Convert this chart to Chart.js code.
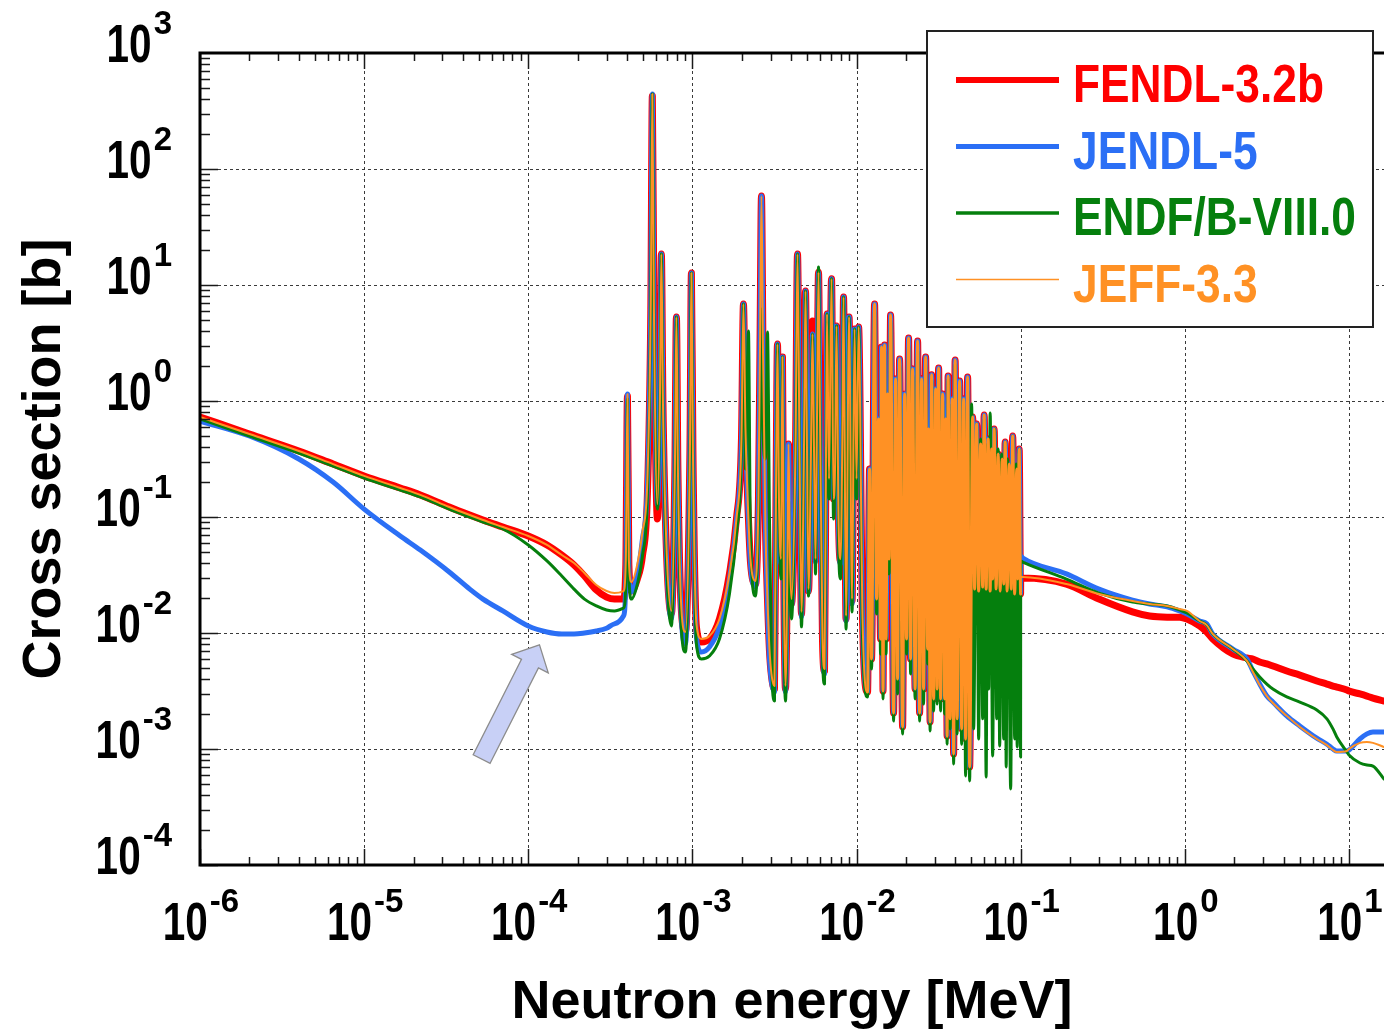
<!DOCTYPE html>
<html><head><meta charset="utf-8">
<script src="https://cdn.jsdelivr.net/npm/chart.js@4.4.1/dist/chart.umd.min.js"></script>
<style>html,body{margin:0;padding:0;background:#fff;}#wrap{position:relative;width:1384px;height:1030px;}</style>
</head><body><div id="wrap"><canvas id="c" width="1384" height="1030"></canvas></div>
<script>
// ---------- data (energies in MeV, cross sections in barns) ----------
const seriesNames = ['FENDL-3.2b', 'JENDL-5', 'ENDF/B-VIII.0', 'JEFF-3.3'];
const xTickExps = [-6, -5, -4, -3, -2, -1, 0, 1];
const yTickExps = [-4, -3, -2, -1, 0, 1, 2, 3];

// smooth low-energy part
const lowE = [1e-6, 2e-6, 4e-6, 6.47e-6, 1e-5, 1.66e-5, 2.2e-5, 3.3e-5, 4.4e-5, 5.3e-5, 7e-5, 1e-4, 1.3e-4, 1.6e-4, 1.9e-4, 2.2e-4, 2.6e-4, 3e-4];
const fendlLow = [0.728, 0.519, 0.371, 0.286, 0.226, 0.178, 0.155, 0.122, 0.104, 0.0942, 0.0820, 0.0686, 0.0574, 0.0470, 0.0386, 0.0310, 0.0235, 0.0204];
const jendlLow = [0.672, 0.499, 0.316, 0.200, 0.117, 0.0686, 0.0519, 0.0336, 0.0239, 0.0196, 0.0155, 0.0115, 0.0102, 0.0098, 0.0098, 0.0100, 0.0104, 0.0110];
const endfLow  = [0.700, 0.499, 0.356, 0.275, 0.217, 0.171, 0.149, 0.117, 0.100, 0.0905, 0.0788, 0.0574, 0.0418, 0.0310, 0.0239, 0.0196, 0.0171, 0.0158];
const jeffLow  = [0.728, 0.519, 0.371, 0.286, 0.226, 0.178, 0.155, 0.122, 0.104, 0.0942, 0.0820, 0.0686, 0.0574, 0.0470, 0.0401, 0.0329, 0.0259, 0.0230];

// isolated resonances
const isoE = [3.35e-4, 3.80e-4, 3.93e-4, 4.02e-4, 4.10e-4, 4.25e-4, 4.62e-4, 4.96e-4, 5.32e-4, 5.58e-4,
  5.70e-4, 5.82e-4, 6.12e-4, 6.34e-4, 6.47e-4, 6.61e-4, 6.94e-4, 7.45e-4, 7.82e-4, 7.99e-4,
  8.16e-4, 8.57e-4, 9.07e-4, 9.66e-4, 9.86e-4, 1.007e-3, 1.058e-3, 1.135e-3, 1.270e-3, 1.461e-3,
  1.681e-3, 1.855e-3, 1.990e-3, 2.046e-3, 2.105e-3, 2.195e-3, 2.258e-3, 2.422e-3, 2.526e-3, 2.580e-3,
  2.635e-3, 2.691e-3, 2.787e-3, 2.867e-3, 2.948e-3, 3.032e-3, 3.162e-3, 3.229e-3, 3.298e-3, 3.368e-3,
  3.464e-3, 3.538e-3, 3.613e-3, 3.690e-3, 3.796e-3, 3.850e-3, 3.931e-3, 4.015e-3, 4.246e-3, 4.368e-3,
  4.492e-3, 4.618e-3, 4.784e-3, 4.887e-3, 4.991e-3, 5.097e-3, 5.279e-3, 5.391e-3, 5.506e-3, 5.623e-3,
  5.743e-3, 5.865e-3, 5.990e-3, 6.204e-3, 6.381e-3, 6.517e-3, 6.609e-3, 6.797e-3, 7.040e-3, 7.240e-3,
  7.394e-3, 7.551e-3, 7.766e-3, 7.988e-3, 8.215e-3, 8.331e-3, 8.630e-3, 9.002e-3, 9.389e-3, 9.723e-3,
  1.000e-2, 1.029e-2, 1.088e-2];
const fendlIso = [0.0196, 0.0196, 0.0393, 1.10, 0.0393, 0.0230, 0.0292, 0.0461, 0.158, 6.21,
  426, 7.57, 0.0961, 1.04, 18.5, 1.04, 0.0530, 0.0146, 0.259, 5.30,
  0.259, 0.0155, 0.0102, 0.386, 12.7, 0.386, 0.0113, 0.00837, 0.00888, 0.0132,
  0.0323, 0.0961, 0.470, 6.86, 0.574, 0.0961, 0.0409, 0.0264, 0.143, 2.81,
  58.5, 2.81, 0.0788, 0.0196, 0.00700, 0.00426, 0.00329, 0.143, 3.10, 0.143,
  0.0434, 2.39, 0.0196, 0.00329, 0.0434, 0.426, 0.0434, 0.0178, 0.386, 18.5,
  0.386, 0.0146, 0.386, 8.88, 0.386, 0.0230, 0.386, 4.89, 0.386, 0.0434,
  0.700, 12.9, 0.700, 0.00853, 0.00470, 0.386, 5.62, 0.213, 11.3, 0.143,
  0.259, 4.43, 0.0961, 0.0418, 0.700, 7.88, 0.0132, 5.30, 0.0189, 4.18,
  0.213, 4.35, 0.0127];
const jendlIso = [0.0120, 0.0140, 0.0292, 1.15, 0.0356, 0.0226, 0.0323, 0.0646, 0.193, 7.57,
  443, 7.57, 0.129, 1.04, 18.5, 1.04, 0.0480, 0.0132, 0.259, 5.30,
  0.259, 0.0132, 0.00804, 0.386, 12.7, 0.386, 0.00924, 0.00686, 0.00757, 0.0113,
  0.0292, 0.0923, 0.470, 6.86, 0.574, 0.0961, 0.0393, 0.0249, 0.143, 2.81,
  58.5, 2.81, 0.0788, 0.0178, 0.00597, 0.00378, 0.00310, 0.143, 3.10, 0.143,
  0.0393, 2.39, 0.0178, 0.00310, 0.0434, 0.426, 0.0434, 0.0168, 0.386, 18.5,
  0.386, 0.0137, 0.386, 8.88, 0.386, 0.0226, 0.386, 3.78, 0.386, 0.0409,
  0.700, 12.9, 0.700, 0.00804, 0.00443, 0.386, 5.62, 0.213, 11.3, 0.143,
  0.259, 4.43, 0.0870, 0.0393, 0.700, 7.88, 0.0127, 5.30, 0.0178, 4.18,
  0.213, 4.35, 0.0120];
const endfIso = [0.0155, 0.0164, 0.0264, 1.04, 0.0323, 0.0196, 0.0264, 0.0461, 0.158, 7.57,
  443, 7.57, 0.117, 1.04, 18.5, 1.04, 0.0434, 0.0115, 0.259, 5.30,
  0.259, 0.0108, 0.00686, 0.386, 12.7, 0.386, 0.00804, 0.00597, 0.00633, 0.00888,
  0.0217, 0.0714, 0.386, 6.86, 0.259, 4.01, 0.0646, 0.0208, 0.0961, 0.700,
  6.21, 0.574, 0.316, 3.93, 0.0961, 0.00597, 0.00259, 0.0961, 3.10, 0.143,
  0.0292, 2.39, 0.0132, 0.00259, 0.0239, 0.143, 0.0239, 0.0132, 0.386, 18.5,
  0.386, 0.0113, 0.386, 8.88, 0.386, 0.0208, 0.386, 3.78, 0.386, 0.0323,
  0.700, 14.3, 0.700, 0.00659, 0.00363, 0.386, 5.62, 0.143, 11.3, 0.0961,
  0.259, 4.43, 0.0646, 0.0292, 0.700, 7.88, 0.0108, 5.30, 0.0152, 4.18,
  0.143, 4.35, 0.00888];
const jeffIso = [0.0221, 0.0230, 0.0434, 1.15, 0.0434, 0.0275, 0.0393, 0.0743, 0.213, 7.57,
  443, 7.57, 0.129, 1.04, 18.5, 1.04, 0.0585, 0.0155, 0.259, 5.30,
  0.259, 0.0161, 0.0102, 0.386, 12.7, 0.386, 0.0120, 0.00888, 0.00942, 0.0132,
  0.0323, 0.0961, 0.470, 6.86, 0.574, 0.0961, 0.0434, 0.0281, 0.143, 2.81,
  58.5, 2.81, 0.0788, 0.0196, 0.00728, 0.00443, 0.00349, 0.143, 3.10, 0.143,
  0.0434, 2.39, 0.0196, 0.00349, 0.0434, 0.426, 0.0434, 0.0196, 0.386, 18.5,
  0.386, 0.0152, 0.386, 8.88, 0.386, 0.0239, 0.386, 3.78, 0.386, 0.0434,
  0.700, 12.9, 0.700, 0.00888, 0.00490, 0.386, 5.62, 0.213, 11.3, 0.143,
  0.259, 4.43, 0.0961, 0.0434, 0.700, 7.88, 0.0140, 5.30, 0.0196, 4.18,
  0.213, 4.35, 0.0132];

// dense resonance region (FENDL, JENDL and JEFF coincide here within reading precision)
const denseE = [1.167e-2, 1.200e-2, 1.234e-2, 1.288e-2, 1.324e-2, 1.362e-2, 1.401e-2, 1.420e-2, 1.450e-2, 1.481e-2,
  1.513e-2, 1.545e-2, 1.578e-2, 1.612e-2, 1.681e-2, 1.729e-2, 1.778e-2, 1.829e-2, 1.908e-2, 1.962e-2,
  2.017e-2, 2.075e-2, 2.134e-2, 2.195e-2, 2.274e-2, 2.355e-2, 2.422e-2, 2.490e-2, 2.561e-2, 2.635e-2,
  2.710e-2, 2.748e-2, 2.807e-2, 2.867e-2, 2.948e-2, 3.032e-2, 3.097e-2, 3.162e-2, 3.252e-2, 3.345e-2,
  3.440e-2, 3.489e-2, 3.563e-2, 3.613e-2, 3.716e-2, 3.822e-2, 3.904e-2, 3.987e-2, 4.101e-2, 4.246e-2,
  4.368e-2, 4.492e-2, 4.618e-2, 4.750e-2, 4.887e-2, 5.097e-2, 5.242e-2, 5.391e-2, 5.545e-2, 5.704e-2,
  5.865e-2, 5.990e-2, 6.161e-2, 6.336e-2, 6.517e-2, 6.656e-2, 6.750e-2, 6.893e-2, 7.089e-2, 7.291e-2,
  7.499e-2, 7.711e-2, 7.877e-2, 8.044e-2, 8.274e-2, 8.509e-2, 8.751e-2, 8.938e-2, 9.193e-2, 9.454e-2,
  9.587e-2, 9.792e-2, 9.99e-2];
const sharedDense = [0.00310, 0.259, 0.00597, 6.86, 0.0196, 0.700, 0.00888, 2.92, 0.00316, 3.04,
  0.00888, 1.15, 0.0434, 5.51, 0.00204, 1.55, 0.00401, 2.30, 0.00155, 1.15,
  0.00888, 3.49, 0.00597, 1.89, 0.00329, 3.29, 0.00204, 1.55, 0.00329, 2.39,
  0.00728, 0.574, 0.00171, 1.68, 0.00270, 1.27, 0.00329, 1.93, 0.00270, 1.15,
  0.00270, 0.700, 0.00129, 1.64, 0.00182, 1.04, 0.000906, 2.26, 0.00182, 1.49,
  0.00149, 1.04, 0.00122, 1.61, 0.000700, 0.728, 0.0239, 0.634, 0.0230, 0.426,
  0.0249, 0.757, 0.0239, 0.470, 0.0230, 0.386, 0.0292, 0.574, 0.0239, 0.349,
  0.0230, 0.316, 0.0264, 0.443, 0.0230, 0.286, 0.0239, 0.499, 0.0217, 0.259,
  0.0292, 0.386, 0.0217];
const endfDenseE = [1.167e-2, 1.200e-2, 1.234e-2, 1.288e-2, 1.324e-2, 1.362e-2, 1.401e-2, 1.420e-2, 1.450e-2, 1.481e-2,
  1.513e-2, 1.545e-2, 1.578e-2, 1.612e-2, 1.681e-2, 1.729e-2, 1.778e-2, 1.829e-2, 1.908e-2, 1.962e-2,
  2.017e-2, 2.075e-2, 2.134e-2, 2.195e-2, 2.274e-2, 2.355e-2, 2.422e-2, 2.490e-2, 2.561e-2, 2.635e-2,
  2.710e-2, 2.748e-2, 2.807e-2, 2.867e-2, 2.948e-2, 3.032e-2, 3.097e-2, 3.162e-2, 3.252e-2, 3.345e-2,
  3.440e-2, 3.489e-2, 3.563e-2, 3.613e-2, 3.716e-2, 3.822e-2, 3.904e-2, 3.987e-2, 4.101e-2, 4.246e-2,
  4.368e-2, 4.492e-2, 4.618e-2, 4.750e-2, 4.887e-2, 5.025e-2, 5.169e-2, 5.391e-2, 5.545e-2, 5.704e-2,
  5.865e-2, 5.990e-2, 6.161e-2, 6.292e-2, 6.381e-2, 6.517e-2, 6.750e-2, 6.942e-2, 7.140e-2, 7.291e-2,
  7.447e-2, 7.657e-2, 7.877e-2, 8.044e-2, 8.158e-2, 8.331e-2, 8.690e-2, 8.938e-2, 9.193e-2, 9.389e-2,
  9.521e-2, 9.792e-2, 9.99e-2];
const endfDense = [0.00281, 0.213, 0.00490, 6.21, 0.0146, 0.574, 0.00659, 2.54, 0.00270, 2.81,
  0.00659, 1.04, 0.0323, 5.09, 0.00174, 1.27, 0.00298, 2.08, 0.00135, 1.04,
  0.00659, 3.10, 0.00443, 1.71, 0.00270, 2.81, 0.00174, 1.40, 0.00244, 2.08,
  0.00541, 0.520, 0.00143, 1.55, 0.00213, 1.15, 0.00244, 1.81, 0.00213, 1.04,
  0.00200, 0.634, 0.00110, 1.55, 0.00149, 0.942, 0.000743, 2.08, 0.00135, 1.40,
  0.00110, 0.942, 0.000585, 1.27, 0.000530, 0.942, 0.00149, 0.634, 0.00122, 0.470,
  0.00182, 0.700, 0.000574, 0.426, 0.00329, 0.788, 0.000870, 0.574, 0.00182, 0.386,
  0.00106, 0.349, 0.00122, 0.443, 0.000700, 0.316, 0.000452, 0.499, 0.00122, 0.286,
  0.00104, 0.386, 0.000853];

// smooth high-energy part
const highE = [0.1, 0.103, 0.19, 0.30, 0.48, 0.61, 0.78, 0.93, 1.03, 1.23, 1.36, 1.48, 1.96, 2.39, 2.6,
  2.86, 3.16, 3.44, 4.18, 5.02, 6.37, 7.34, 7.99, 8.43, 9.72, 10, 11.67, 12.87, 14.0, 16.35];
const fendlHigh = [0.0298, 0.0298, 0.0264, 0.0196, 0.0152, 0.0140, 0.0137, 0.0137, 0.0132, 0.0115, 0.0102, 0.00888, 0.00659, 0.00609, 0.00597,
  0.00562, 0.00541, 0.00519, 0.00470, 0.00434, 0.00386, 0.00363, 0.00349, 0.00342, 0.00323, 0.00316, 0.00298, 0.00286, 0.00275, 0.00259];
const jendlHigh = [0.0461, 0.0443, 0.0323, 0.0239, 0.0192, 0.0178, 0.0168, 0.0155, 0.0146, 0.0127, 0.0120, 0.0098, 0.00728, 0.00597, 0.00470,
  0.00363, 0.00286, 0.00254, 0.00193, 0.00158, 0.00124, 0.00110, 0.00100, 0.00096, 0.00096, 0.00098, 0.00122, 0.00135, 0.00140, 0.00140];
const endfHigh = [0.0418, 0.0409, 0.0292, 0.0221, 0.0185, 0.0178, 0.0171, 0.0158, 0.0149, 0.0127, 0.0117, 0.0098, 0.00728, 0.00574, 0.00490,
  0.00418, 0.00363, 0.00329, 0.00281, 0.00254, 0.00217, 0.00182, 0.00149, 0.00127, 0.000942, 0.000888, 0.000757, 0.000728, 0.000713, 0.000551];
const jeffHigh = [0.0304, 0.0304, 0.0264, 0.0217, 0.0189, 0.0178, 0.0171, 0.0161, 0.0155, 0.0127, 0.0117, 0.0098, 0.00728, 0.00574, 0.00461,
  0.00356, 0.00286, 0.00249, 0.00193, 0.00155, 0.00122, 0.00108, 0.00098, 0.000942, 0.00096, 0.00100, 0.00113, 0.00115, 0.00113, 0.00104];

// ---------- building ----------
const FONT = '"Liberation Sans", Arial, Helvetica, sans-serif';
const COLORS = ['#ff0000', '#2b6ff5', '#057f0d', '#ff9124'];
const WIDTHS = [7, 5, 3, 2];
const DENSE_WIDTHS = [7, 5, 3, 3];
const LEG_WIDTHS = [6, 5, 3.5, 1.5];
const DENSE_FROM = 1.1e-2, DENSE_TO = 0.1;

const pts = (es, vs) => es.map((e, i) => ({x: e, y: vs[i]}));
const seriesData = [
  [...pts(lowE, fendlLow), ...pts(isoE, fendlIso), ...pts(denseE, sharedDense), ...pts(highE, fendlHigh)],
  [...pts(lowE, jendlLow), ...pts(isoE, jendlIso), ...pts(denseE, sharedDense), ...pts(highE, jendlHigh)],
  [...pts(lowE, endfLow), ...pts(isoE, endfIso), ...pts(endfDenseE, endfDense), ...pts(highE, endfHigh)],
  [...pts(lowE, jeffLow), ...pts(isoE, jeffIso), ...pts(denseE, sharedDense), ...pts(highE, jeffHigh)]
];

function drawPower(ctx, exp, x, baseline, align) {
  ctx.font = 'bold 54px ' + FONT;
  const w10 = ctx.measureText('10').width * 0.75;
  ctx.font = 'bold 33px ' + FONT;
  const s = String(exp);
  const wS = ctx.measureText(s).width;
  const total = w10 + 2 + wS;
  const x0 = align === 'right' ? x - total : x - total / 2;
  ctx.fillStyle = '#000';
  ctx.textAlign = 'left'; ctx.textBaseline = 'alphabetic';
  ctx.save(); ctx.translate(x0, baseline); ctx.scale(0.75, 1);
  ctx.font = 'bold 54px ' + FONT; ctx.fillText('10', 0, 0); ctx.restore();
  ctx.font = 'bold 33px ' + FONT;
  ctx.fillText(s, x0 + w10 + 2, baseline - 28);
}

const framePlugin = {
  id: 'frame',
  beforeDatasetsDraw(chart) {
    const {ctx, chartArea: a, scales: {x, y}} = chart;
    ctx.save();
    ctx.strokeStyle = '#3a3a3a'; ctx.lineWidth = 1; ctx.setLineDash([3, 3]);
    xTickExps.forEach(e => {
      const px = Math.round(x.getPixelForValue(Math.pow(10, e))) + 0.5;
      if (px <= a.left + 2) return;
      ctx.beginPath(); ctx.moveTo(px, a.top); ctx.lineTo(px, a.bottom); ctx.stroke();
    });
    yTickExps.forEach(e => {
      const py = Math.round(y.getPixelForValue(Math.pow(10, e))) + 0.5;
      if (py <= a.top + 2 || py >= a.bottom - 2) return;
      ctx.beginPath(); ctx.moveTo(a.left, py); ctx.lineTo(a.right, py); ctx.stroke();
    });
    ctx.restore();
  },
  afterDatasetsDraw(chart) {
    const {ctx, chartArea: a, scales: {x, y}} = chart;
    ctx.save();
    ctx.strokeStyle = '#1a1a1a'; ctx.lineWidth = 1.5; ctx.setLineDash([]);
    for (let e = -6; e <= 1; e++) {
      for (let k = 1; k <= 9; k++) {
        const v = k * Math.pow(10, e);
        if (v > x.max) continue;
        const px = Math.round(x.getPixelForValue(v)) + 0.5;
        const len = k === 1 ? 16 : 8;
        ctx.beginPath(); ctx.moveTo(px, a.bottom); ctx.lineTo(px, a.bottom - len); ctx.stroke();
        ctx.beginPath(); ctx.moveTo(px, a.top); ctx.lineTo(px, a.top + len); ctx.stroke();
      }
    }
    for (let e = -4; e <= 2; e++) {
      for (let k = 1; k <= 9; k++) {
        const v = k * Math.pow(10, e);
        const py = Math.round(y.getPixelForValue(v)) + 0.5;
        const len = k === 1 ? 18 : 10;
        ctx.beginPath(); ctx.moveTo(a.left, py); ctx.lineTo(a.left + len, py); ctx.stroke();
      }
    }
    ctx.strokeStyle = '#000'; ctx.lineWidth = 3;
    ctx.beginPath();
    ctx.moveTo(a.right, a.top); ctx.lineTo(a.left, a.top); ctx.lineTo(a.left, a.bottom); ctx.lineTo(a.right, a.bottom);
    ctx.stroke();
    // annotation arrow (anchored in data space)
    const T = {x: x.getPixelForValue(5.2e-5), y: y.getPixelForValue(8.2e-4)};
    const P = {x: x.getPixelForValue(1.17e-4), y: y.getPixelForValue(7.9e-3)};
    const L = Math.hypot(P.x - T.x, P.y - T.y);
    const u = {x: (P.x - T.x) / L, y: (P.y - T.y) / L};
    const n = {x: -u.y, y: u.x};
    const hw = 9.5, hhw = 20.5, hl = 21;
    const H = {x: P.x - u.x * hl, y: P.y - u.y * hl};
    const poly = [
      [T.x + n.x * hw, T.y + n.y * hw], [H.x + n.x * hw, H.y + n.y * hw], [H.x + n.x * hhw, H.y + n.y * hhw],
      [P.x, P.y], [H.x - n.x * hhw, H.y - n.y * hhw], [H.x - n.x * hw, H.y - n.y * hw], [T.x - n.x * hw, T.y - n.y * hw]
    ];
    ctx.beginPath();
    poly.forEach((p, i) => i ? ctx.lineTo(p[0], p[1]) : ctx.moveTo(p[0], p[1]));
    ctx.closePath();
    ctx.fillStyle = '#c8d0f6'; ctx.fill();
    ctx.strokeStyle = '#8c8c8c'; ctx.lineWidth = 1.3; ctx.stroke();
    ctx.restore();
  },
  afterDraw(chart) {
    const {ctx, scales: {x, y}} = chart;
    ctx.save();
    yTickExps.forEach(e => drawPower(ctx, e, 172, y.getPixelForValue(Math.pow(10, e)) + 9, 'right'));
    xTickExps.forEach(e => drawPower(ctx, e, x.getPixelForValue(Math.pow(10, e)) + 1, 940, 'center'));
    ctx.fillStyle = '#000'; ctx.font = 'bold 54px ' + FONT; ctx.textAlign = 'center'; ctx.textBaseline = 'alphabetic';
    ctx.fillText('Neutron energy [MeV]', 792, 1018);
    ctx.save(); ctx.translate(60, 459); ctx.rotate(-Math.PI / 2);
    ctx.fillText('Cross section [b]', 0, 0); ctx.restore();
    ctx.fillStyle = '#fff'; ctx.fillRect(927, 31, 446, 296);
    ctx.strokeStyle = '#222'; ctx.lineWidth = 2; ctx.strokeRect(927, 31, 446, 296);
    seriesNames.forEach((name, i) => {
      const ly = 80 + i * 66.5;
      ctx.strokeStyle = COLORS[i]; ctx.lineWidth = LEG_WIDTHS[i]; ctx.lineCap = 'butt';
      ctx.beginPath(); ctx.moveTo(956, ly); ctx.lineTo(1059, ly); ctx.stroke();
      ctx.fillStyle = COLORS[i]; ctx.font = 'bold 54px ' + FONT; ctx.textAlign = 'left';
      ctx.save(); ctx.translate(1073, ly + 22); ctx.scale(0.82, 1); ctx.fillText(name, 0, 0); ctx.restore();
    });
    ctx.restore();
  }
};

new Chart(document.getElementById('c'), {
  type: 'line',
  data: {
    datasets: seriesData.map((d, i) => ({
      label: seriesNames[i],
      data: d,
      borderColor: COLORS[i],
      backgroundColor: COLORS[i],
      borderWidth: WIDTHS[i],
      pointRadius: 0,
      fill: false,
      cubicInterpolationMode: 'monotone',
      borderJoinStyle: 'round',
      borderCapStyle: 'round',
      segment: {
        borderWidth: c => (c.p0.parsed.x >= DENSE_FROM && c.p1.parsed.x < DENSE_TO) ? DENSE_WIDTHS[i] : WIDTHS[i]
      },
      order: 3 - i
    }))
  },
  options: {
    responsive: false,
    maintainAspectRatio: false,
    devicePixelRatio: 1,
    animation: false,
    events: [],
    layout: {padding: {top: 53, right: 0, left: 0, bottom: 0}},
    plugins: {legend: {display: false}, tooltip: {enabled: false}, title: {display: false}},
    scales: {
      x: {
        type: 'logarithmic', min: 1e-6, max: 16.35,
        ticks: {display: false}, grid: {display: false}, border: {display: false},
        afterFit: s => { s.height = 165; }
      },
      y: {
        type: 'logarithmic', min: 1e-4, max: 1e3,
        ticks: {display: false}, grid: {display: false}, border: {display: false},
        afterFit: s => { s.width = 200; }
      }
    }
  },
  plugins: [framePlugin]
});
</script></body></html>
